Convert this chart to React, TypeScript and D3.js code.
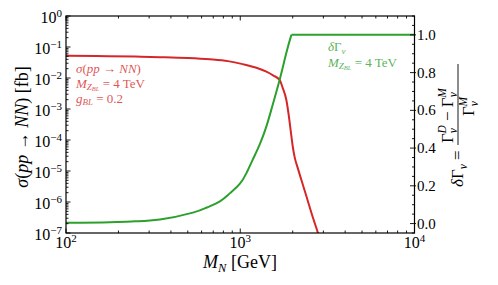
import React from "react";
import * as d3 from "d3";

// ---- data ----
const massRed = [100, 150, 250, 346, 500, 669, 850, 1033, 1250, 1413, 1550, 1683, 1752, 1839, 1897, 1946, 1999, 2052, 2137, 2244, 2400, 2560, 2793, 3048];
const sigmaNN = [0.052, 0.051, 0.049, 0.047, 0.044, 0.040, 0.035, 0.028, 0.021, 0.016, 0.012, 0.0087, 0.0048, 0.00195, 6.4e-4, 2.1e-4, 6.4e-5, 2.8e-5, 1.26e-5, 5.1e-6, 1.5e-6, 4.5e-7, 1e-7, 2.2e-8];
const massGreen = [100, 178.7, 250, 346, 535, 643, 764, 871, 993, 1089, 1180, 1294, 1413, 1536, 1683, 1839, 1965, 3000, 10000];
const deltaGamma = [0.004, 0.007, 0.012, 0.021, 0.058, 0.085, 0.118, 0.16, 0.21, 0.27, 0.339, 0.42, 0.515, 0.63, 0.762, 0.905, 1.0, 1.0, 1.0];
const leftExponents = [-7, -6, -5, -4, -3, -2, -1, 0];
const bottomExponents = [2, 3, 4];
const rightTicks = [0.0, 0.2, 0.4, 0.6, 0.8, 1.0];

const RED = "#d62728";
const GREEN = "#2ca02c";
const FONT = "Liberation Serif, DejaVu Serif, serif";

export default function App() {
  const L = 66, R = 414.5, T = 16, B = 233;
  const x = d3.scaleLog().domain([100, 1e4]).range([L, R]);
  const yL = d3.scaleLog().domain([1e-7, 1]).range([B, T]);
  const yR = d3.scaleLinear().domain([-0.05, 1.1]).range([B, T]);

  const redLine = d3.line<number>()
    .x((_, i) => x(massRed[i]))
    .y((d) => yL(d))
    .curve(d3.curveMonotoneX)(sigmaNN) as string;

  // green: smooth rise up to saturation, then straight plateau
  const satIdx = deltaGamma.indexOf(1.0);
  const greenPts: [number, number][] = massGreen.map((m, i) => [x(m), yR(deltaGamma[i])]);
  const greenRise = d3.line().curve(d3.curveNatural)(greenPts.slice(0, satIdx + 1)) as string;
  const greenFlat = d3.line()(greenPts.slice(satIdx)) as string;

  // minor ticks
  const xMinor: number[] = [];
  for (let e = 2; e < 4; e++) for (let k = 2; k <= 9; k++) xMinor.push(k * Math.pow(10, e));
  const yMinor: number[] = [];
  for (let e = -7; e < 0; e++) for (let k = 2; k <= 9; k++) yMinor.push(k * Math.pow(10, e));
  const rMinor: number[] = [];
  for (let v = -0.05; v <= 1.1001; v += 0.05) {
    const r = Math.round(v * 100) / 100;
    if (Math.abs(r * 5 - Math.round(r * 5)) > 1e-6) rMinor.push(r);
  }

  const tickStroke = { stroke: "#000", strokeWidth: 0.9 };

  return (
    <svg width={498} height={285} style={{ position: "absolute", left: 0, top: 0, background: "#fff", fontFamily: FONT }}>
      <defs>
        <clipPath id="plotclip">
          <rect x={L} y={T} width={R - L} height={B - T} />
        </clipPath>
      </defs>

      {/* curves */}
      <g clipPath="url(#plotclip)" fill="none" strokeWidth={2} strokeLinejoin="round">
        <path d={redLine} stroke={RED} />
        <path d={greenRise} stroke={GREEN} />
        <path d={greenFlat} stroke={GREEN} />
      </g>

      {/* ticks: bottom & top */}
      {bottomExponents.map((e) => {
        const px = x(Math.pow(10, e));
        return (
          <g key={"bx" + e}>
            <line x1={px} x2={px} y1={B} y2={B - 4.5} {...tickStroke} />
            <line x1={px} x2={px} y1={T} y2={T + 4.5} {...tickStroke} />
            <text x={px} y={B + 15} textAnchor="middle" fontSize={16}>
              10<tspan fontSize={11} dy={-6}>{e}</tspan>
            </text>
          </g>
        );
      })}
      {xMinor.map((v) => (
        <g key={"xm" + v}>
          <line x1={x(v)} x2={x(v)} y1={B} y2={B - 2.5} {...tickStroke} />
          <line x1={x(v)} x2={x(v)} y1={T} y2={T + 2.5} {...tickStroke} />
        </g>
      ))}

      {/* left ticks */}
      {leftExponents.map((e) => {
        const py = yL(Math.pow(10, e));
        return (
          <g key={"ly" + e}>
            <line x1={L} x2={L + 4.5} y1={py} y2={py} {...tickStroke} />
            <text x={62} y={py + 7} textAnchor="end" fontSize={16}>
              10<tspan fontSize={11} dy={-6}>{e < 0 ? "\u2212" + Math.abs(e) : String(e)}</tspan>
            </text>
          </g>
        );
      })}
      {yMinor.map((v) => (
        <line key={"ym" + v} x1={L} x2={L + 2.5} y1={yL(v)} y2={yL(v)} {...tickStroke} />
      ))}

      {/* right ticks */}
      {rightTicks.map((v) => {
        const py = yR(v);
        return (
          <g key={"ry" + v}>
            <line x1={R - 4.5} x2={R + 1.5} y1={py} y2={py} {...tickStroke} />
            <text x={417} y={py + 5} fontSize={15}>{v.toFixed(1)}</text>
          </g>
        );
      })}
      {rMinor.map((v) => (
        <line key={"rm" + v} x1={R - 2.5} x2={R} y1={yR(v)} y2={yR(v)} {...tickStroke} />
      ))}

      {/* frame */}
      <rect x={L} y={T} width={R - L} height={B - T} fill="none" stroke="#000" strokeWidth={1.2} />

      {/* annotations: red */}
      <g fill={RED} fillOpacity={0.8} fontSize={13}>
        <text x={76} y={73}>
          <tspan fontStyle="italic">σ</tspan>(<tspan fontStyle="italic">pp</tspan> → <tspan fontStyle="italic">NN</tspan>)
        </text>
        <text x={76} y={88}>
          <tspan fontStyle="italic">M</tspan>
          <tspan fontStyle="italic" fontSize={9} dy={2}>Z</tspan>
          <tspan fontStyle="italic" fontSize={6.5} dy={1.2}>BL</tspan>
          <tspan dy={-3.2}> = 4 TeV</tspan>
        </text>
        <text x={76} y={103}>
          <tspan fontStyle="italic">g</tspan>
          <tspan fontStyle="italic" fontSize={9} dy={2}>BL</tspan>
          <tspan dy={-2}> = 0.2</tspan>
        </text>
      </g>

      {/* annotations: green */}
      <g fill={GREEN} fillOpacity={0.8} fontSize={13}>
        <text x={328} y={51}>
          <tspan fontStyle="italic">δ</tspan>Γ<tspan fontStyle="italic" fontSize={9} dy={2.5}>ν</tspan>
        </text>
        <text x={328} y={67}>
          <tspan fontStyle="italic">M</tspan>
          <tspan fontStyle="italic" fontSize={9} dy={2}>Z</tspan>
          <tspan fontStyle="italic" fontSize={6.5} dy={1.2}>BL</tspan>
          <tspan dy={-3.2}> = 4 TeV</tspan>
        </text>
      </g>

      {/* x label */}
      <text x={240} y={268} textAnchor="middle" fontSize={18}>
        <tspan fontStyle="italic">M</tspan>
        <tspan fontStyle="italic" fontSize={12.5} dy={4}>N</tspan>
        <tspan dy={-4}> [GeV]</tspan>
      </text>

      {/* left y label */}
      <text transform="translate(28,127) rotate(-90)" textAnchor="middle" fontSize={18}>
        <tspan fontStyle="italic">σ</tspan>(<tspan fontStyle="italic">pp</tspan> → <tspan fontStyle="italic">NN</tspan>) [fb]
      </text>

      {/* right y label: δΓ_ν = (Γ_ν^D − Γ_ν^M)/Γ_ν^M */}
      <g transform="translate(458,126) rotate(-90)" fontSize={17}>
        <text x={-61} y={5}>
          <tspan fontStyle="italic">δ</tspan>Γ<tspan fontStyle="italic" fontSize={11.5} dy={3.5}>ν</tspan>
          <tspan dy={-3.5}> =</tspan>
        </text>
        {/* numerator */}
        <text x={-17} y={-5}>
          Γ<tspan fontStyle="italic" fontSize={11.5} dy={4}>ν</tspan>
          <tspan fontStyle="italic" fontSize={11.5} dx={-5.5} dy={-11}>D</tspan>
          <tspan dy={7}> − Γ</tspan>
          <tspan fontStyle="italic" fontSize={11.5} dy={4}>ν</tspan>
          <tspan fontStyle="italic" fontSize={11.5} dx={-5.5} dy={-11}>M</tspan>
        </text>
        <line x1={-19} x2={62} y1={0} y2={0} stroke="#000" strokeWidth={0.9} />
        {/* denominator */}
        <text x={10} y={16}>
          Γ<tspan fontStyle="italic" fontSize={11.5} dy={4}>ν</tspan>
          <tspan fontStyle="italic" fontSize={11.5} dx={-5.5} dy={-11}>M</tspan>
        </text>
      </g>
    </svg>
  );
}
